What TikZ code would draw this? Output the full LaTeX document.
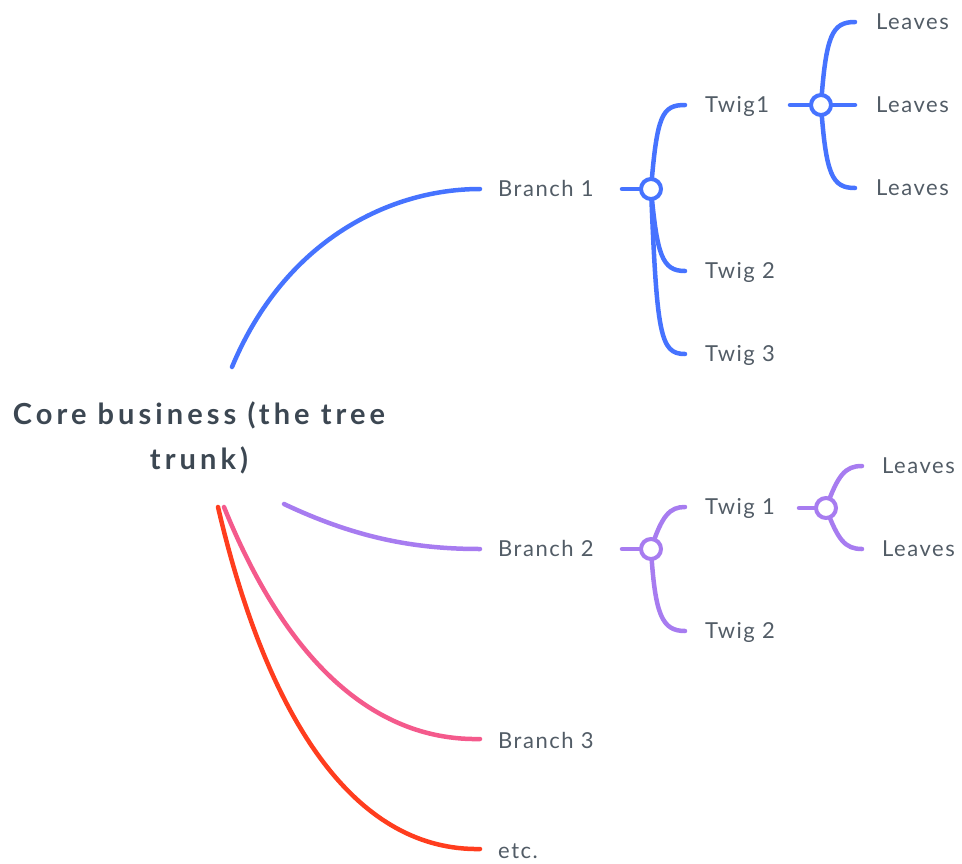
\documentclass[tikz,border=0pt]{standalone}
\usepackage{fontspec}
\setmainfont{Lato}
\newfontfamily\lblfont[LetterSpace=7]{Lato}
\newfontfamily\rootfont[LetterSpace=14]{Lato}
\definecolor{cblue}{HTML}{4673FF}
\definecolor{cpurple}{HTML}{A77CF0}
\definecolor{cpink}{HTML}{F45A8C}
\definecolor{cred}{HTML}{FF3D1E}
\definecolor{ctext}{HTML}{525C66}
\definecolor{croot}{HTML}{3C4752}
\begin{document}
\begin{tikzpicture}[x=1pt,y=-1pt,
  lbl/.style={anchor=west,inner sep=0pt,text height=16pt,text depth=0pt,text=ctext,font=\lblfont\fontsize{22}{26}\selectfont},
  rootlbl/.style={align=center,inner sep=0pt,text=croot,font=\rootfont\fontsize{29}{45}\selectfont\bfseries},
  conn/.style={line width=4.5pt,line cap=round},
  hub/.style={circle,draw=#1,fill=white,line width=4pt,minimum size=20pt,inner sep=0pt}]
\useasboundingbox (0,0) rectangle (962,863);
% root
\node[rootlbl] (root) at (199,438) {Core business (the tree\\trunk)};
\coordinate (rA) at (232,367);
\coordinate (rB) at (284,504);
\coordinate (rC) at (224,507);
\coordinate (rD) at (218,507);
% level 1 labels
\node[lbl] (b1) at (498,188) {Branch 1};
\node[lbl] (b2) at (498,548) {Branch 2};
\node[lbl] (b3) at (498,740) {Branch 3};
\node[lbl] (b4) at (498,850) {etc.};
% blue subtree
\node[lbl] (t11) at (705,104) {Twig1};
\node[lbl] (t12) at (705,270) {Twig 2};
\node[lbl] (t13) at (705,353) {Twig 3};
\node[lbl] (l1) at (876,21) {Leaves};
\node[lbl] (l2) at (876,104) {Leaves};
\node[lbl] (l3) at (876,187) {Leaves};
% purple subtree
\node[lbl] (t21) at (705,506) {Twig 1};
\node[lbl] (t22) at (705,630) {Twig 2};
\node[lbl] (l4) at (882,465) {Leaves};
\node[lbl] (l5) at (882,548) {Leaves};
% hubs
\coordinate (h1) at (651,189);
\coordinate (h2) at (821,105);
\coordinate (h3) at (651,549);
\coordinate (h4) at (826,508);
% main branches
\draw[conn,cblue] (rA) .. controls (285,240) and (390,189) .. ([xshift=-18]b1.west |- h1);
\draw[conn,cpurple] (rB) .. controls (360,540) and (420,549) .. ([xshift=-18]b2.west |- h3);
\draw[conn,cpink] (rC) .. controls (290,670) and (380,741) .. ([xshift=-18,yshift=1]b3.west);
\draw[conn,cred] (rD) .. controls (270,730) and (360,851) .. ([xshift=-18,yshift=1]b4.west);
% blue twigs
\draw[conn,cblue] (622,189) -- (h1);
\draw[conn,cblue] (h1) .. controls (657,115) and (662,105) .. (685,105);
\draw[conn,cblue] (h1) .. controls (657,255) and (662,271) .. (685,271);
\draw[conn,cblue] (h1) .. controls (657,335) and (660,354) .. (685,354);
\draw[conn,cblue] (790,105) -- (h2);
\draw[conn,cblue] (h2) .. controls (826,35) and (832,22) .. (855,22);
\draw[conn,cblue] (h2) -- (855,105);
\draw[conn,cblue] (h2) .. controls (826,175) and (832,188) .. (855,188);
% purple twigs
\draw[conn,cpurple] (622,549) -- (h3);
\draw[conn,cpurple] (h3) .. controls (662,515) and (670,507) .. (685,507);
\draw[conn,cpurple] (h3) .. controls (655,615) and (662,631) .. (685,631);
\draw[conn,cpurple] (799,508) -- (h4);
\draw[conn,cpurple] (h4) .. controls (838,475) and (845,466) .. (862,466);
\draw[conn,cpurple] (h4) .. controls (838,540) and (845,549) .. (862,549);
% hub circles
\node[hub=cblue] (hub1) at (h1) {};
\node[hub=cblue] (hub2) at (h2) {};
\node[hub=cpurple] (hub3) at (h3) {};
\node[hub=cpurple] (hub4) at (h4) {};
\end{tikzpicture}
\end{document}
